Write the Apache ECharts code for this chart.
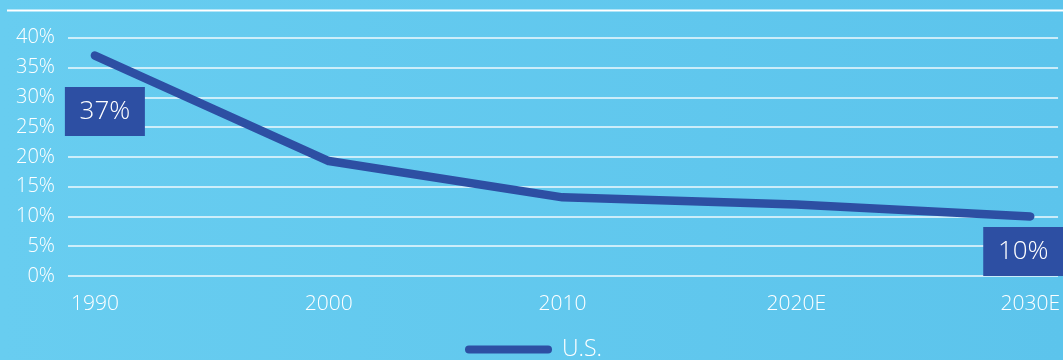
<!DOCTYPE html>
<html>
<head>
<meta charset="utf-8">
<script src="https://cdn.jsdelivr.net/npm/echarts@6/dist/echarts.min.js"></script>
<style>
  html, body { margin: 0; padding: 0; }
  #chart { width: 1063px; height: 360px; }
</style>
</head>
<body>
<div id="chart"></div>
<script>
// Share of total, by year
const categories = ['1990', '2000', '2010', '2020E', '2030E'];
const usValues = [37, 19.3, 13.2, 12.0, 10];
const yTicks = [0, 5, 10, 15, 20, 25, 30, 35, 40];
// which points carry a value box, and where the box sits relative to the point
const boxedPoints = { 0: [10, 56], 4: [-7, 35] };

const FONT = '"Open Sans", Lato, sans-serif';
const WEIGHT = 300;
const LINE_COLOR = '#2d4fa3';

const seriesData = usValues.map((v, i) => {
  const item = { value: [i, v] };
  if (boxedPoints[i]) {
    item.label = {
      show: true,
      position: 'inside',
      offset: boxedPoints[i],
      formatter: () => v + '%',
      color: '#ffffff',
      fontFamily: FONT,
      fontWeight: WEIGHT,
      fontSize: 26,
      backgroundColor: LINE_COLOR,
      width: 80,
      height: 49,
      lineHeight: 49,
      align: 'center',
      verticalAlign: 'middle'
    };
  }
  return item;
});

const chart = echarts.init(document.getElementById('chart'));
chart.setOption({
  backgroundColor: {
    type: 'linear', x: 0, y: 0, x2: 1, y2: 0,
    colorStops: [
      { offset: 0, color: '#68cdf0' },
      { offset: 1, color: '#5cc4ec' }
    ]
  },
  animation: false,
  grid: { left: 68, right: 0, top: 37.7, bottom: 84 },
  xAxis: {
    type: 'value',
    min: -0.115,
    max: 4.119,
    axisLine: { show: false },
    axisTick: { show: false },
    splitLine: { show: false },
    axisLabel: {
      customValues: categories.map((c, i) => i),
      formatter: (val) => categories[Math.round(val)],
      color: '#ffffff',
      fontFamily: FONT,
      fontWeight: WEIGHT,
      fontSize: 21,
      margin: 18
    }
  },
  yAxis: {
    type: 'value',
    min: yTicks[0],
    max: yTicks[yTicks.length - 1],
    interval: yTicks[1] - yTicks[0],
    axisLine: { show: false },
    axisTick: { show: false },
    axisLabel: {
      formatter: '{value}%',
      color: '#ffffff',
      fontFamily: FONT,
      fontWeight: WEIGHT,
      fontSize: 20,
      margin: 13
    },
    splitLine: { lineStyle: { color: 'rgba(255,255,255,0.9)', width: 1.5 } }
  },
  legend: {
    left: 460,
    top: 333,
    itemWidth: 87,
    itemHeight: 8,
    itemGap: 8,
    icon: 'path://M4,0 H83 A4,4 0 0 1 83,8 H4 A4,4 0 0 1 4,0 Z',
    textStyle: {
      color: '#ffffff', fontFamily: FONT, fontWeight: WEIGHT, fontSize: 23,
      padding: [0, 0, 0, 5]
    },
    data: ['U.S.']
  },
  graphic: [{
    type: 'line',
    shape: { x1: 7, y1: 10.5, x2: 1063, y2: 10.5 },
    style: { stroke: '#ffffff', lineWidth: 2 }
  }],
  series: [{
    name: 'U.S.',
    type: 'line',
    data: seriesData,
    symbol: 'circle',
    symbolSize: 0.1,
    itemStyle: { color: LINE_COLOR },
    lineStyle: { color: LINE_COLOR, width: 8.5, cap: 'round', join: 'round' },
    label: { show: false },
    z: 3
  }]
});
</script>
</body>
</html>
